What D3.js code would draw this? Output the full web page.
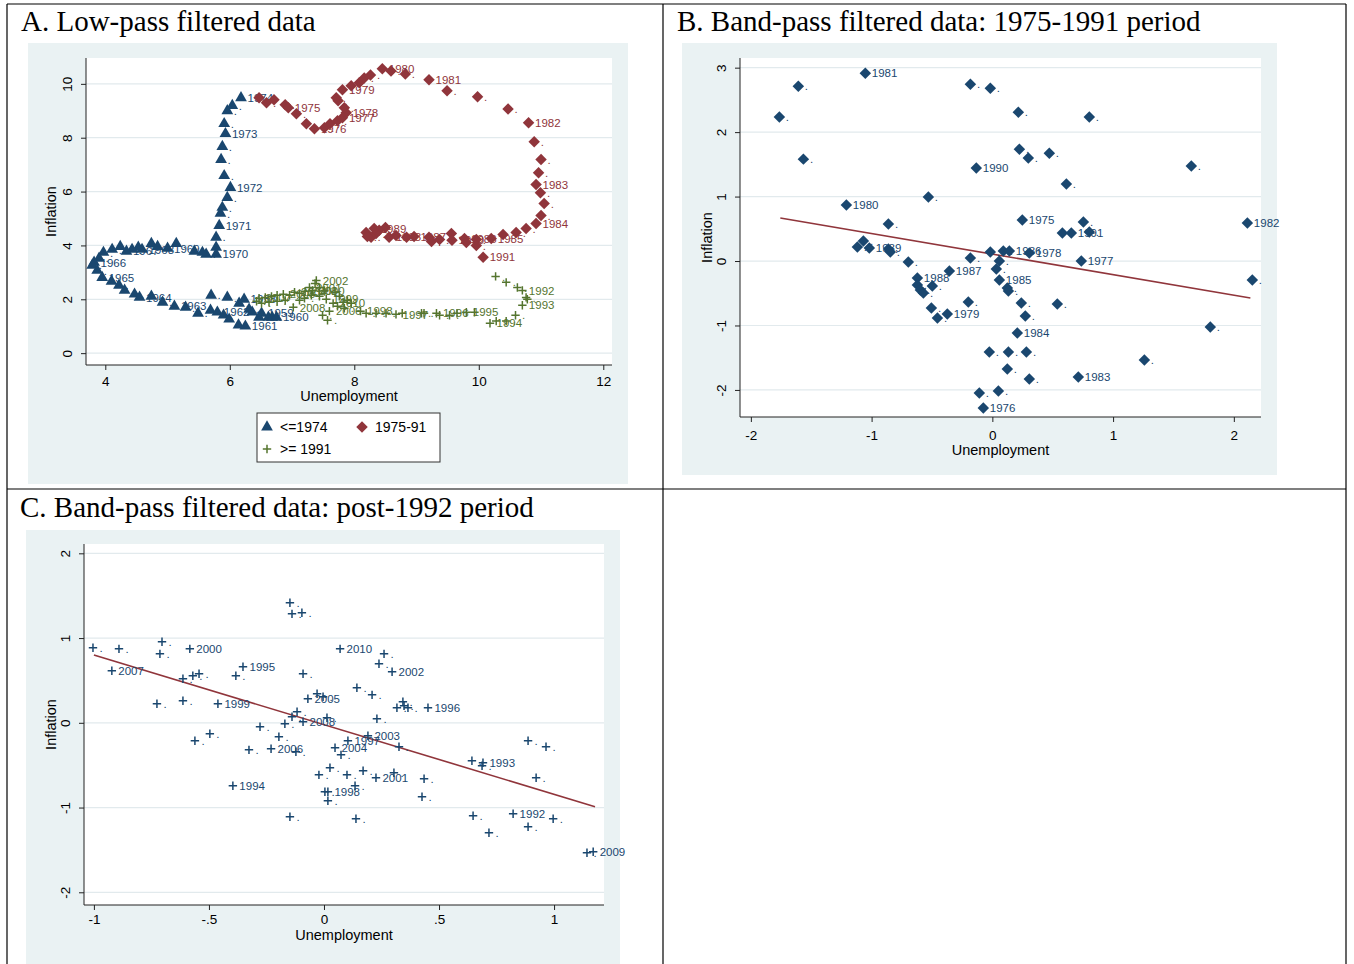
<!DOCTYPE html>
<html>
<head>
<meta charset="utf-8">
<script src="https://cdn.jsdelivr.net/npm/d3@7"></script>
<style>
  body { margin: 0; background: #fff; }
</style>
</head>
<body>
<script>
// ---- data ----
// panel A: low-pass filtered [unemployment, inflation, label]
const aUpTo1974 = [
  [6.18,9.48,"1974"],[6.04,9.19],[5.96,9.0],[5.91,8.52],[5.93,8.15,"1973"],[5.88,7.67],[5.86,7.19],[5.91,6.59],
  [6.01,6.15,"1972"],[5.96,5.78],[5.88,5.41],[5.85,5.19],[5.83,4.74,"1971"],[5.78,4.30],[5.78,3.93],[5.78,3.67,"1970"],
  [5.62,3.67],[5.56,3.74],[5.43,3.78],[5.14,4.07],[5.0,3.89,"1969"],[4.84,3.96],[4.74,4.07],[4.59,3.85,"1968"],
  [4.53,3.93],[4.43,3.85],[4.34,3.78,"1967"],[4.24,3.96],[4.11,3.85],[3.97,3.74],[3.90,3.52],[3.82,3.37,"1966"],
  [3.79,3.26],[3.87,3.07],[3.95,2.81,"1965"],[4.10,2.67],[4.22,2.52],[4.31,2.33],[4.47,2.19],[4.55,2.07,"1964"],
  [4.74,2.11],[4.92,1.89],[5.11,1.74,"1963"],[5.29,1.70],[5.49,1.48],[5.69,1.59],[5.80,1.52,"1962"],[5.90,1.41],
  [5.99,1.26],[6.14,1.04],[6.25,1.0,"1961"],[6.47,1.33],[6.51,1.48,"1959"],[6.62,1.33],[6.68,1.33],[6.75,1.33,"1960"],
  [6.15,1.85],[6.23,2.0,"1958"],[5.96,2.07],[5.70,2.15],[6.31,1.63],[6.36,1.52]
];
const a1975to91 = [
  [6.47,9.48],[6.59,9.30],[6.71,9.41],[6.89,9.22],[6.94,9.11,"1975"],[7.07,8.89],[7.23,8.52],[7.36,8.33,"1976"],
  [7.52,8.37],[7.61,8.52],[7.73,8.63],[7.81,8.74,"1977"],[7.87,8.93,"1978"],[7.84,9.11],[7.74,9.37],[7.71,9.48],
  [7.81,9.78,"1979"],[7.95,9.93],[8.08,10.04],[8.16,10.22],[8.26,10.33],[8.45,10.56,"1980"],[8.59,10.48],[8.82,10.37],
  [9.20,10.15,"1981"],[9.49,9.74],[9.98,9.52],[10.47,9.07],[10.80,8.56,"1982"],[10.89,7.85],[11.0,7.19],[10.96,6.70],
  [10.92,6.26,"1983"],[10.99,5.96],[11.05,5.56],[11.0,5.11],[10.92,4.81,"1984"],[10.76,4.63],[10.60,4.48],[10.39,4.41],
  [10.20,4.26,"1985"],[9.96,4.22],[9.96,4.0],[9.77,4.26,"1986"],[9.80,4.11],[9.56,4.44],[9.57,4.19,"1990"],[9.37,4.22],
  [9.20,4.30],[9.24,4.15],[8.96,4.33,"1987"],[8.84,4.30],[8.67,4.37],[8.56,4.30,"1988"],[8.50,4.67],[8.40,4.56],
  [8.35,4.44],[8.32,4.63,"1989"],[8.27,4.30],[8.19,4.48],[8.21,4.33],[10.07,3.56,"1991"]
];
const aFrom1991 = [
  [10.27,2.85],[10.44,2.63],[10.62,2.44],[10.70,2.33,"1992"],[10.76,2.07],[10.78,2.0],[10.70,1.78,"1993"],[10.59,1.41],
  [10.44,1.19],[10.28,1.19],[10.18,1.11,"1994"],[9.93,1.52],[9.80,1.52,"1995"],[9.65,1.48],[9.53,1.41],[9.37,1.41],
  [9.32,1.48,"1996"],[9.12,1.48],[9.08,1.48],[8.77,1.48],[8.67,1.44,"1997"],[8.51,1.48],[8.35,1.48],[8.19,1.48],
  [8.10,1.56,"1998"],[7.84,1.67],[7.73,1.74],[7.55,2.0,"1999"],[7.44,2.11],[7.33,2.33,"2000"],[7.37,2.59],[7.39,2.70,"2002"],
  [7.28,2.44,"2001"],[7.21,2.30,"2003"],[7.12,2.22],[7.04,2.26,"2004"],[6.96,2.15],[6.86,2.19,"2005"],[6.76,2.15],[6.67,2.11],
  [6.57,2.07],[6.47,2.04,"2007"],[6.43,1.93],[6.51,1.85],[6.63,1.89],[6.76,1.93],[6.89,1.96],[7.02,1.70,"2008"],
  [7.60,1.56,"2006"],[7.66,1.85,"2010"],[7.57,1.22],[7.49,1.41],[7.76,2.11],[7.89,1.96],[7.95,1.85],[7.82,1.89],
  [7.69,2.26],[7.52,2.33],[7.44,2.44],[7.31,2.15],[7.20,2.04],[7.12,1.96]
];
const aTicksX = [4, 6, 8, 10, 12];
const aTicksY = [0, 2, 4, 6, 8, 10];
const aLegend = ["<=1974", "1975-91", ">= 1991"];

// panel B: band-pass 1975-1991
const b1975to91 = [
  [-1.764,2.233],[-1.607,2.713],[-1.565,1.581],[-1.052,2.915,"1981"],[-1.209,0.868,"1980"],[-0.861,0.574],[-0.530,0.992],
  [-0.182,2.744],[-0.017,2.682],[0.215,2.310],[0.803,2.233],[0.224,1.736],[0.298,1.597],[0.472,1.674],[1.648,1.473],
  [0.613,1.194],[-0.133,1.442,"1990"],[0.248,0.636,"1975"],[0.754,0.605],[0.580,0.434],[0.654,0.434,"1991"],[0.803,0.450],
  [2.112,0.589,"1982"],[-1.118,0.217],[-1.068,0.310],[-1.019,0.202,"1989"],[-0.861,0.186],[-0.845,0.140],[-0.696,-0.016],
  [-0.182,0.047],[-0.017,0.140],[0.091,0.155],[0.141,0.155,"1986"],[0.306,0.124,"1978"],[0.058,0.0],[0.737,0.0,"1977"],
  [-0.356,-0.155,"1987"],[0.033,-0.124],[0.058,-0.295,"1985"],[0.124,-0.419],[0.133,-0.465],[0.240,-0.651],[0.273,-0.853],
  [0.207,-1.116,"1984"],[-0.025,-1.411],[0.133,-1.411],[0.282,-1.411],[0.124,-1.674],[0.306,-1.829],[-0.108,-2.047],
  [0.050,-2.016],[-0.075,-2.279,"1976"],[-0.621,-0.264,"1988"],[-0.621,-0.372],[-0.596,-0.450],[-0.571,-0.496],
  [-0.497,-0.388],[-0.199,-0.636],[-0.505,-0.729],[-0.455,-0.884],[-0.373,-0.822,"1979"],[2.153,-0.295],[0.538,-0.667],
  [1.805,-1.023],[1.259,-1.535],[0.712,-1.798,"1983"]
];
const bFit = [[-1.756, 0.667], [2.137, -0.574]];
const bTicksX = [-2, -1, 0, 1, 2];
const bTicksY = [-2, -1, 0, 1, 2, 3];

// panel C: band-pass post-1992
const cPost1992 = [
  [-0.148,1.416],[-0.139,1.286],[-0.096,1.298],[-1.004,0.885],[-0.891,0.873],[-0.704,0.956],[-0.713,0.814],
  [-0.583,0.873,"2000"],[-0.922,0.614,"2007"],[-0.352,0.661,"1995"],[-0.383,0.555],[-0.091,0.578],[-0.613,0.519],
  [-0.570,0.555],[-0.543,0.578],[-0.726,0.224],[-0.613,0.260],[-0.461,0.224,"1999"],[-0.070,0.283,"2005"],
  [-0.030,0.342],[-0.004,0.307],[-0.117,0.130],[-0.139,0.071],[-0.091,0.012,"2008"],[-0.170,-0.012],[0.013,0.059],
  [-0.278,-0.047],[-0.196,-0.165],[-0.496,-0.130],[-0.561,-0.212],[-0.326,-0.319],[-0.230,-0.307,"2006"],
  [-0.122,-0.342],[0.048,-0.295,"2004"],[0.074,-0.378],[0.104,-0.212,"1997"],[0.143,0.413],[0.070,0.873,"2010"],
  [0.261,0.814],[0.239,0.696],[0.296,0.602,"2002"],[0.209,0.330],[0.230,0.047],[0.343,0.248],[0.348,0.200],
  [0.317,0.177],[0.365,0.177],[0.452,0.177,"1996"],[0.191,-0.153,"2003"],[0.326,-0.283],[0.026,-0.531],
  [-0.022,-0.614],[0.100,-0.614],[0.170,-0.566],[0.226,-0.649,"2001"],[0.304,-0.590],[0.435,-0.661],[0.135,-0.743],
  [0.004,-0.814],[0.017,-0.814,"1998"],[0.017,-0.920],[0.426,-0.873],[0.643,-0.448],[0.687,-0.507],[0.691,-0.472,"1993"],
  [0.887,-0.212],[0.965,-0.283],[0.922,-0.649],[-0.148,-1.109],[0.139,-1.133],[0.648,-1.097],[0.822,-1.074,"1992"],
  [0.996,-1.133],[0.887,-1.227],[0.717,-1.298],[1.143,-1.534],[1.170,-1.522,"2009"],[-0.396,-0.743,"1994"]
];
const cFit = [[-1.0, 0.80], [1.178, -0.99]];
const cTicksX = [-1, -0.5, 0, 0.5, 1];
const cTickLabelsX = ["-1", "-.5", "0", ".5", "1"];
const cTicksY = [-2, -1, 0, 1, 2];

// ---- colours (stata s2color) ----
const navy = "#1a476f", maroon = "#90353b", green = "#55752f";
const bg = "#eaf2f3", gridCol = "#e2eaed", axisCol = "#222";
const sans = "Liberation Sans, Arial, sans-serif";

const svg = d3.select("body").append("svg")
    .attr("width", 1354)
    .attr("height", 964)
    .style("font-family", sans);

svg.append("rect").attr("width", 1354).attr("height", 964).attr("fill", "#fff");

const shapes = {
    tri: d3.symbol(d3.symbolTriangle, 60)(),
    dia: d3.symbol(d3.symbolSquare, 66)(),
    plus: "M-4.2,0H4.2M0,-4.2V4.2"
};

function panel(p) {
    const g = svg.append("g");
    g.append("rect")
        .attr("x", p.bx).attr("y", p.by)
        .attr("width", p.bw).attr("height", p.bh)
        .attr("fill", bg);
    g.append("rect")
        .attr("x", p.x0).attr("y", p.y0)
        .attr("width", p.x1 - p.x0).attr("height", p.y1 - p.y0)
        .attr("fill", "#fff");

    const x = d3.scaleLinear().domain(p.xd).range([p.x0, p.x1]);
    const y = d3.scaleLinear().domain(p.yd).range([p.y1, p.y0]);

    g.selectAll(".grid")
        .data(p.yt)
        .enter()
        .append("line")
        .attr("x1", p.x0).attr("x2", p.x1)
        .attr("y1", d => y(d)).attr("y2", d => y(d))
        .attr("stroke", gridCol)
        .attr("stroke-width", 1.2);

    const xa = g.append("g")
        .attr("transform", `translate(0,${p.y1})`)
        .call(d3.axisBottom(x).tickValues(p.xt)
            .tickFormat((d, i) => p.xl ? p.xl[i] : String(d))
            .tickSize(5).tickSizeOuter(0).tickPadding(p.pad));
    xa.selectAll("text").attr("font-size", 13.5).attr("fill", "#000").style("font-family", sans);

    const ya = g.append("g")
        .attr("transform", `translate(${p.x0},0)`)
        .call(d3.axisLeft(y).tickValues(p.yt).tickFormat(d => String(d))
            .tickSize(5).tickSizeOuter(0));
    ya.selectAll("text")
        .attr("x", null).attr("dy", null)
        .attr("text-anchor", "middle")
        .attr("transform", "translate(-14,0) rotate(-90)")
        .attr("font-size", 13.5).attr("fill", "#000")
        .style("font-family", sans);

    g.selectAll(".domain, .tick line").attr("stroke", axisCol);
    ya.select(".domain").attr("d", `M0,${p.y0}V${p.y1}`);
    xa.select(".domain").attr("d", `M${p.x0},0H${p.x1}`);

    g.append("text")
        .attr("x", (p.x0 + p.x1) / 2).attr("y", p.y1 + p.tx)
        .attr("text-anchor", "middle")
        .attr("font-size", 14.5)
        .text("Unemployment");
    g.append("text")
        .attr("transform", `translate(${p.x0 - p.ty},${(p.y0 + p.y1) / 2}) rotate(-90)`)
        .attr("text-anchor", "middle")
        .attr("font-size", 14.5)
        .text("Inflation");

    return { g, x, y };
}

// labels first, markers on top (as in the stata output)
function scatter(pn, data, shape, color) {
    const s = pn.g.append("g");
    s.selectAll("text")
        .data(data)
        .enter()
        .append("text")
        .attr("x", d => pn.x(d[0]) + 6.5)
        .attr("y", d => pn.y(d[1]))
        .attr("dy", "0.36em")
        .attr("font-size", 11.5)
        .attr("fill", color)
        .text(d => d[2] || ".");
    s.selectAll("path")
        .data(data)
        .enter()
        .append("path")
        .attr("d", shapes[shape])
        .attr("transform", d => `translate(${pn.x(d[0])},${pn.y(d[1])})` + (shape == "dia" ? " rotate(45)" : ""))
        .attr("fill", shape == "plus" ? "none" : color)
        .attr("stroke", shape == "plus" ? color : "none")
        .attr("stroke-width", 1.5);
}

function fitLine(pn, pts) {
    pn.g.append("line")
        .attr("x1", pn.x(pts[0][0])).attr("y1", pn.y(pts[0][1]))
        .attr("x2", pn.x(pts[1][0])).attr("y2", pn.y(pts[1][1]))
        .attr("stroke", maroon)
        .attr("stroke-width", 1.6);
}

// panel A
const pa = panel({bx: 28, by: 43, bw: 600, bh: 441, x0: 86, x1: 612, y0: 58, y1: 365,
    xd: [3.69, 12.14], yd: [-0.44, 10.96], xt: aTicksX, yt: aTicksY, tx: 36, ty: 30, pad: 6});
scatter(pa, aUpTo1974, "tri", navy);
scatter(pa, a1975to91, "dia", maroon);
scatter(pa, aFrom1991, "plus", green);

// legend A
const lg = pa.g.append("g");
lg.append("rect").attr("x", 257).attr("y", 413).attr("width", 183).attr("height", 49)
    .attr("fill", "#fff").attr("stroke", "#333").attr("stroke-width", 1);
const legItems = [
    {s: "tri", c: navy, lx: 267, ly: 427},
    {s: "dia", c: maroon, lx: 362, ly: 427},
    {s: "plus", c: green, lx: 267, ly: 449}
];
legItems.forEach((it, i) => {
    lg.append("path")
        .attr("d", shapes[it.s])
        .attr("transform", `translate(${it.lx},${it.ly})` + (it.s == "dia" ? " rotate(45)" : ""))
        .attr("fill", it.s == "plus" ? "none" : it.c)
        .attr("stroke", it.s == "plus" ? it.c : "none")
        .attr("stroke-width", 1.5);
    lg.append("text")
        .attr("x", it.lx + 13).attr("y", it.ly).attr("dy", "0.36em")
        .attr("font-size", 14)
        .text(aLegend[i]);
});

// panel B
const pb = panel({bx: 682, by: 43, bw: 595, bh: 432, x0: 740, x1: 1261, y0: 58, y1: 417,
    xd: [-2.09, 2.225], yd: [-2.42, 3.15], xt: bTicksX, yt: bTicksY, tx: 38, ty: 28, pad: 8});
fitLine(pb, bFit);
scatter(pb, b1975to91, "dia", navy);

// panel C
const pc = panel({bx: 26, by: 530, bw: 594, bh: 440, x0: 84, x1: 604, y0: 544, y1: 905,
    xd: [-1.043, 1.217], yd: [-2.15, 2.11], xt: cTicksX, xl: cTickLabelsX, yt: cTicksY, tx: 35, ty: 28, pad: 4});
fitLine(pc, cFit);
scatter(pc, cPost1992, "plus", navy);

// ---- table frame and titles ----
const frame = [
    [7, 4, 1346, 4], [7, 489, 1346, 489],
    [7, 4, 7, 964], [663, 4, 663, 964], [1346, 4, 1346, 964]
];
svg.selectAll(".frame")
    .data(frame)
    .enter()
    .append("line")
    .attr("x1", d => d[0]).attr("y1", d => d[1])
    .attr("x2", d => d[2]).attr("y2", d => d[3])
    .attr("stroke", "#000")
    .attr("stroke-width", 1.2);

const titles = [
    ["A. Low-pass filtered data", 21, 31],
    ["B. Band-pass filtered data: 1975-1991 period", 677, 31],
    ["C. Band-pass filtered data: post-1992 period", 20, 517]
];
svg.selectAll(".title")
    .data(titles)
    .enter()
    .append("text")
    .attr("x", d => d[1]).attr("y", d => d[2])
    .style("font-family", "'Liberation Serif', 'Times New Roman', serif")
    .attr("font-size", 29)
    .text(d => d[0]);
</script>
</body>
</html>
